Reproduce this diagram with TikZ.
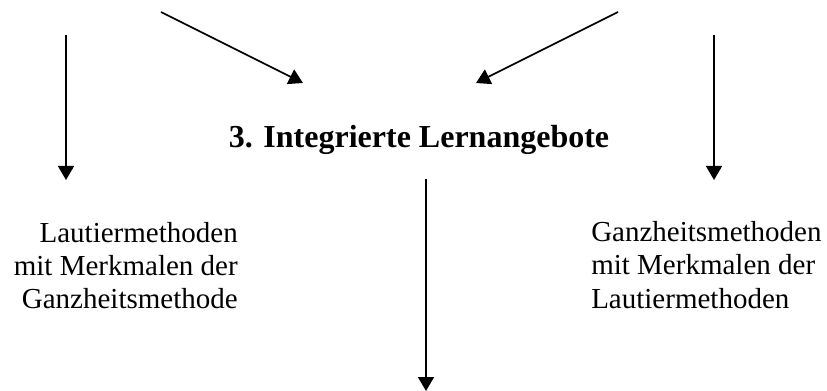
\documentclass[tikz,border=0pt]{standalone}
\usepackage{fontspec}
\setmainfont{Liberation Serif}
\usetikzlibrary{arrows.meta}
\begin{document}
\begin{tikzpicture}[x=0.75pt,y=-0.75pt,
  conn/.style={line width=1.3pt,-{Triangle[width=12pt,length=10.5pt]}},
  body/.style={inner sep=0pt,font=\fontsize{21.75pt}{25.1pt}\selectfont},
  titlefont/.style={inner sep=0pt,font=\fontsize{24pt}{28pt}\selectfont\bfseries}]
\useasboundingbox (0,0) rectangle (827,391);
\node[titlefont,anchor=base] (title) at (419,148) {3. Integrierte Lernangebote};
\node[body,anchor=base east,align=right] (left) at (238,309) {Lautiermethoden\\mit Merkmalen der\\Ganzheitsmethode};
\node[body,anchor=base west,align=left] (right) at (591,308) {Ganzheitsmethoden\\mit Merkmalen der\\Lautiermethoden};
\coordinate (ls) at (66,35);
\coordinate (le) at (66,180);
\coordinate (rs) at (714,35);
\coordinate (re) at (714,180);
\coordinate (dls) at (161,12);
\coordinate (dle) at (303,83);
\coordinate (drs) at (618,12);
\coordinate (dre) at (476,83);
\coordinate (cs) at (426,179);
\coordinate (ce) at (426,391);
\draw[conn] (ls) -- (le);
\draw[conn] (rs) -- (re);
\draw[conn] (dls) -- (dle);
\draw[conn] (drs) -- (dre);
\draw[conn] (cs) -- (ce);
\end{tikzpicture}
\end{document}
